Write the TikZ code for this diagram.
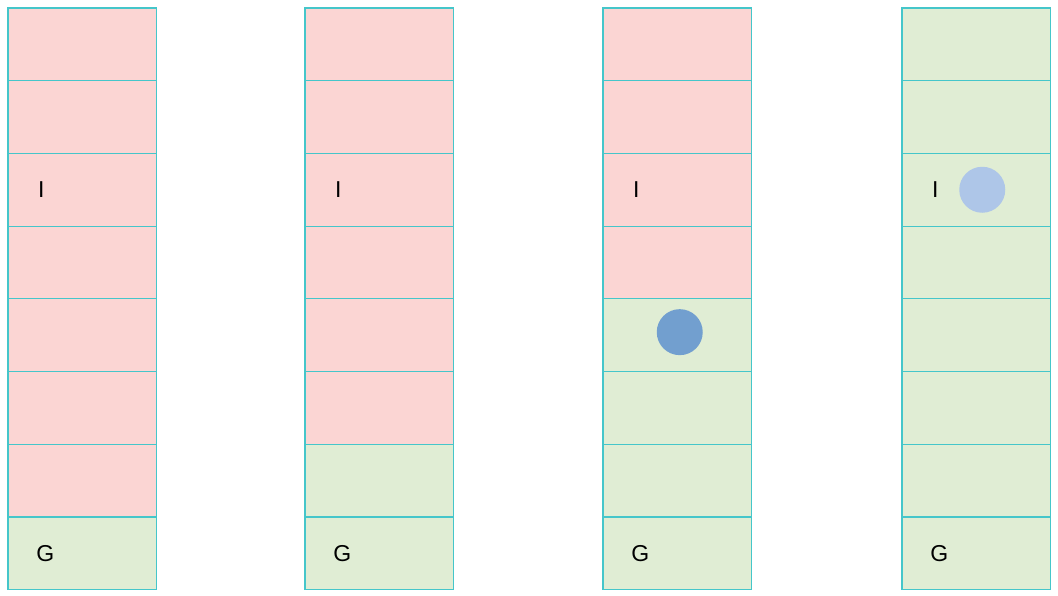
\documentclass[tikz,border=0pt]{standalone}
\usepackage{fontspec}
\setmainfont{Liberation Sans}
\definecolor{cellpink}{HTML}{FBD5D3}
\definecolor{cellgreen}{HTML}{E0EDD4}
\definecolor{cellborder}{HTML}{45C6CA}
\definecolor{dotdark}{HTML}{729FCF}
\definecolor{dotlight}{HTML}{AEC6E8}
\tikzset{
  cell/.style={draw=cellborder, line width=1.2pt, minimum width=148.5pt, minimum height=72.7pt, inner sep=0pt, outer sep=0pt, anchor=north west},
  pinkcell/.style={cell, fill=cellpink},
  greencell/.style={cell, fill=cellgreen},
  lbl/.style={font=\fontsize{23}{23}\selectfont, text=black, inner sep=0pt},
  dot/.style={circle, minimum size=46pt, inner sep=0pt},
}
\begin{document}
\begin{tikzpicture}[x=1pt,y=-1pt]
\useasboundingbox (0,0) rectangle (1058,595);
\fill[white] (0,0) rectangle (1058,595);
% columns: left x, number of pink rows
\foreach \c/\xl/\np in {1/8/7, 2/305/6, 3/603/4, 4/902/0}{
  \foreach \r in {1,...,8}{
    \pgfmathtruncatemacro{\ispink}{\r<=\np ? 1 : 0}
    \ifnum\ispink=1
      \node[pinkcell] (c\c-\r) at (\xl, {8+(\r-1)*72.7}) {};
    \else
      \node[greencell] (c\c-\r) at (\xl, {8+(\r-1)*72.7}) {};
    \fi
  }
  \node[lbl] (i\c) at ([xshift=-41pt]c\c-3.center) {I};
  \node[lbl] (g\c) at ([xshift=-37pt]c\c-8.center) {G};
}
\node[dot, fill=dotdark] (d3) at ([xshift=2.5pt,yshift=3pt]c3-5.center) {};
\node[dot, fill=dotlight] (d4) at ([xshift=6pt]c4-3.center) {};
\end{tikzpicture}
\end{document}
